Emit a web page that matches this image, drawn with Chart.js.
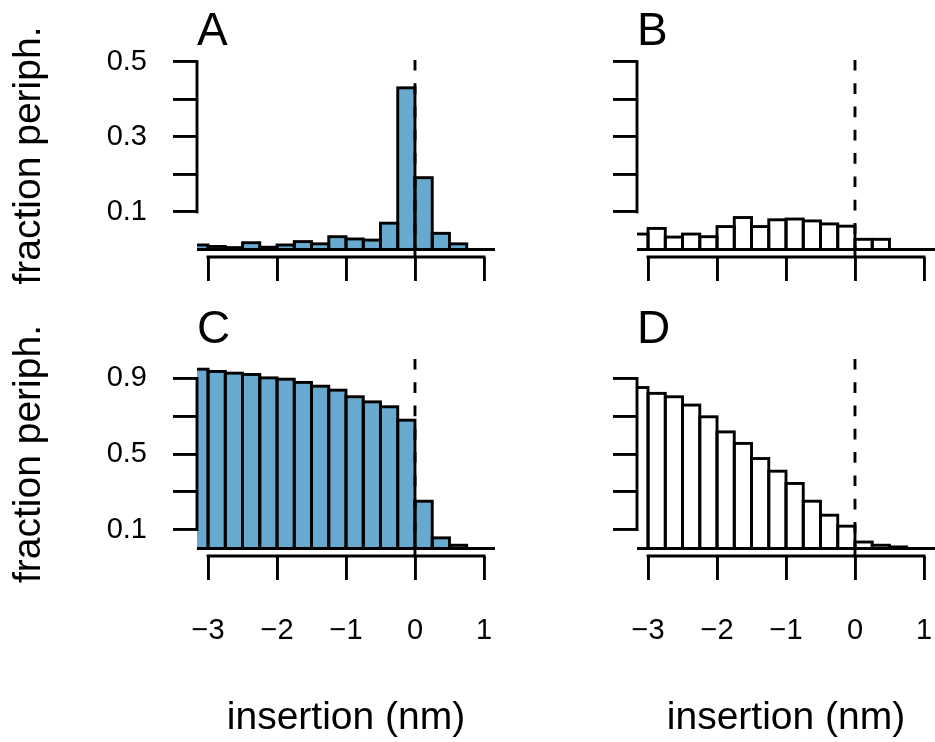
<!DOCTYPE html>
<html>
<head>
<meta charset="utf-8">
<title>fraction periph. vs insertion</title>
<script src="https://cdn.jsdelivr.net/npm/chart.js@4.4.1/dist/chart.umd.min.js"></script>
<style>
  html, body { margin: 0; padding: 0; background: #fff; }
  body { width: 935px; height: 742px; position: relative; overflow: hidden; }
  canvas { position: absolute; }
</style>
</head>
<body>
<canvas id="panelA" width="495" height="300" style="left:0;top:0"></canvas>
<canvas id="panelB" width="495" height="300" style="left:440px;top:0"></canvas>
<canvas id="panelC" width="495" height="442" style="left:0;top:300px"></canvas>
<canvas id="panelD" width="495" height="442" style="left:440px;top:300px"></canvas>
<script>
// histogram bins, 0.25 nm wide, from -3.25 to 1.0
const binCenters = [-3.125, -2.875, -2.625, -2.375, -2.125, -1.875, -1.625, -1.375, -1.125,
                    -0.875, -0.625, -0.375, -0.125, 0.125, 0.375, 0.625, 0.875];

// fraction peripheral per bin
const fracA = [0.012, 0.008, 0.005, 0.018, 0.006, 0.012, 0.021, 0.015, 0.034,
               0.028, 0.025, 0.070, 0.430, 0.191, 0.043, 0.015, 0];
const fracB = [0.041, 0.056, 0.033, 0.041, 0.034, 0.061, 0.085, 0.061, 0.079,
               0.081, 0.076, 0.068, 0.062, 0.027, 0.027, 0, 0];
const fracC = [0.949, 0.937, 0.928, 0.921, 0.903, 0.896, 0.879, 0.859, 0.838,
               0.803, 0.776, 0.750, 0.679, 0.250, 0.056, 0.017, 0];
const fracD = [0.852, 0.821, 0.803, 0.759, 0.697, 0.617, 0.556, 0.476, 0.409,
               0.344, 0.250, 0.176, 0.118, 0.034, 0.017, 0.008, 0];

// axes
const xTicks = [-3, -2, -1, 0, 1];
const xTickLabels = ['\u22123', '\u22122', '\u22121', '0', '1'];
const yTicksTop = [0.1, 0.2, 0.3, 0.4, 0.5];
const yLabelsTop = ['0.1', '', '0.3', '', '0.5'];
const yTicksBottom = [0.1, 0.3, 0.5, 0.7, 0.9];
const yLabelsBottom = ['0.1', '', '0.5', '', '0.9'];
const xRange = [-3.16, 1.16];
const yRangeTop = [-0.02, 0.52];
const yRangeBottom = [-0.04, 1.04];
const refLineX = 0;

const BLUE = '#67a9cf';
const LW = 2.9;
const FAMILY = '"Liberation Sans", Arial, Helvetica, sans-serif';

Chart.defaults.font.family = FAMILY;
Chart.defaults.color = '#000';

// R-like drawing: outlined bars, zero line, dashed reference line,
// axis lines that only span the ticks, and the panel letter
const rStyle = {
    id: 'rStyle',
    afterDatasetsDraw(chart) {
        const {ctx, chartArea: ca, scales: {x, y}} = chart;
        ctx.save();
        ctx.beginPath();
        ctx.rect(ca.left, ca.top, ca.width, ca.height);
        ctx.clip();
        ctx.lineWidth = LW;
        ctx.strokeStyle = '#000';

        // bar outlines centred on the edges
        chart.getDatasetMeta(0).data.forEach(bar => {
            const p = bar.getProps(['x', 'y', 'base', 'width'], true);
            if (p.base - p.y < 0.5) return;
            ctx.strokeRect(p.x - p.width / 2, p.y, p.width, p.base - p.y);
        });

        // zero line
        const y0 = y.getPixelForValue(0);
        ctx.beginPath();
        ctx.moveTo(ca.left, y0);
        ctx.lineTo(ca.right, y0);
        ctx.stroke();

        // dashed line at insertion 0
        const x0 = x.getPixelForValue(refLineX);
        ctx.setLineDash([10.7, 12.6]);
        ctx.beginPath();
        ctx.moveTo(x0, ca.bottom);
        ctx.lineTo(x0, ca.top);
        ctx.stroke();
        ctx.restore();
    },
    afterDraw(chart, args, opts) {
        const {ctx, chartArea: ca, scales: {x, y}} = chart;
        ctx.save();
        ctx.lineWidth = LW;
        ctx.strokeStyle = '#000';
        ctx.lineCap = 'square';

        const xt = x.ticks;
        ctx.beginPath();
        ctx.moveTo(x.getPixelForValue(xt[0].value), ca.bottom);
        ctx.lineTo(x.getPixelForValue(xt[xt.length - 1].value), ca.bottom);
        ctx.stroke();

        const yt = y.ticks;
        ctx.beginPath();
        ctx.moveTo(ca.left, y.getPixelForValue(yt[0].value));
        ctx.lineTo(ca.left, y.getPixelForValue(yt[yt.length - 1].value));
        ctx.stroke();

        ctx.fillStyle = '#000';
        ctx.font = '46px ' + FAMILY;
        ctx.textAlign = 'left';
        ctx.textBaseline = 'alphabetic';
        ctx.fillText(opts.letter, ca.left, ca.top - 9);
        ctx.restore();
    }
};

function makePanel(id, o) {
    const tickGrid = {
        offset: false,
        drawOnChartArea: false,
        drawTicks: true,
        tickLength: 24,
        lineWidth: LW,
        color: '#000'
    };

    return new Chart(document.getElementById(id), {
        type: 'bar',
        data: {
            datasets: [{
                data: binCenters.map((c, i) => ({x: c, y: o.values[i]})),
                backgroundColor: o.fill,
                borderWidth: 0,
                barPercentage: 1,
                categoryPercentage: 1,
                inflateAmount: 0
            }]
        },
        options: {
            responsive: false,
            animation: false,
            devicePixelRatio: 1,
            layout: { padding: { top: o.padTop, right: 0, bottom: 0, left: 0 } },
            plugins: {
                legend: { display: false },
                tooltip: { enabled: false },
                rStyle: { letter: o.letter }
            },
            scales: {
                x: {
                    type: 'linear',
                    offset: false,
                    min: xRange[0],
                    max: xRange[1],
                    afterBuildTicks: s => { s.ticks = xTicks.map(v => ({value: v})); },
                    afterFit: s => {
                        // fixed height, and no extra side padding for the labels
                        s.height = o.xHeight;
                        s.paddingLeft = 0;
                        s.paddingRight = 0;
                    },
                    grid: tickGrid,
                    border: { display: false },
                    ticks: {
                        display: o.xLabels,
                        padding: 34,
                        autoSkip: false,
                        maxRotation: 0,
                        font: { size: 29 },
                        callback: (v, i) => xTickLabels[i]
                    },
                    title: {
                        display: o.xLabels,
                        text: 'insertion (nm)',
                        font: { size: 39 },
                        padding: { top: 0, bottom: 0 }
                    }
                },
                y: {
                    type: 'linear',
                    min: o.yRange[0],
                    max: o.yRange[1],
                    afterBuildTicks: s => { s.ticks = o.yTicks.map(v => ({value: v})); },
                    afterFit: s => {
                        s.width = 197;
                        s.paddingTop = 0;
                        s.paddingBottom = 0;
                    },
                    grid: tickGrid,
                    border: { display: false },
                    ticks: {
                        display: o.yLabels,
                        padding: 26,
                        font: { size: 29 },
                        callback: (v, i) => o.yTickLabels[i]
                    },
                    title: {
                        display: o.yLabels,
                        text: 'fraction periph.',
                        font: { size: 39 },
                        padding: { top: 6, bottom: 0 }
                    }
                }
            }
        },
        plugins: [rStyle]
    });
}

makePanel('panelA', { letter: 'A', values: fracA, fill: BLUE, padTop: 54, xHeight: 43,
    xLabels: false, yLabels: true, yRange: yRangeTop, yTicks: yTicksTop, yTickLabels: yLabelsTop });
makePanel('panelB', { letter: 'B', values: fracB, fill: '#ffffff', padTop: 54, xHeight: 43,
    xLabels: false, yLabels: false, yRange: yRangeTop, yTicks: yTicksTop, yTickLabels: yLabelsTop });
makePanel('panelC', { letter: 'C', values: fracC, fill: BLUE, padTop: 52, xHeight: 186,
    xLabels: true, yLabels: true, yRange: yRangeBottom, yTicks: yTicksBottom, yTickLabels: yLabelsBottom });
makePanel('panelD', { letter: 'D', values: fracD, fill: '#ffffff', padTop: 52, xHeight: 186,
    xLabels: true, yLabels: false, yRange: yRangeBottom, yTicks: yTicksBottom, yTickLabels: yLabelsBottom });
</script>
</body>
</html>
